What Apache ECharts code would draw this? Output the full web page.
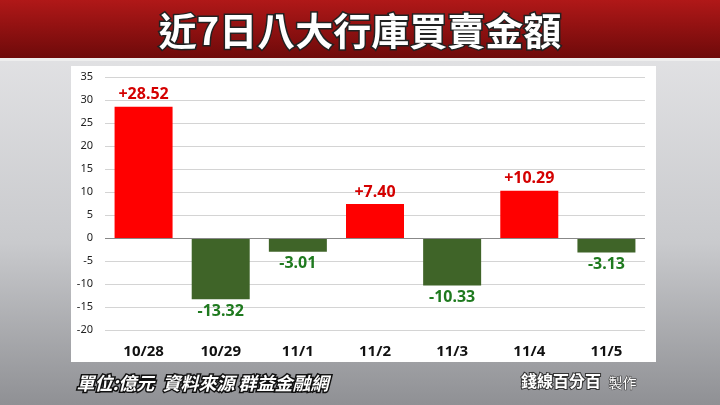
<!DOCTYPE html>
<html><head><meta charset="utf-8">
<script src="https://cdn.jsdelivr.net/npm/echarts@6/dist/echarts.min.js"></script>
<style>html,body{margin:0;padding:0;}
#c{width:720px;height:405px;background:linear-gradient(180deg,#e8e8ea 0%,#c9cacd 60%,#8f9094 100%);}</style>
</head><body><div id="c"></div>
<script>
const categories=['10/28','10/29','11/1','11/2','11/3','11/4','11/5'];
const values=[28.52,-13.32,-3.01,7.40,-10.33,10.29,-3.13];
const labels=['+28.52','-13.32','-3.01','+7.40','-10.33','+10.29','-3.13'];
const chart=echarts.init(document.getElementById('c'));
chart.setOption({
 animation:false,
 graphic:[
  {type:'rect',shape:{x:0,y:0,width:720,height:58},style:{fill:new echarts.graphic.LinearGradient(0,0,0,1,[{offset:0,color:'#b01818'},{offset:1,color:'#6e0a0a'}])},z:-2},
  {type:'rect',shape:{x:0,y:58,width:720,height:3},style:{fill:'#eeeeee'},z:-2},
  {type:'text',left:'center',top:10,style:{text:'近7日八大行庫買賣金額',fill:'#ffffff',font:'bold 38px "Noto Sans CJK TC"',stroke:'#222',lineWidth:3},z:5},
  {type:'rect',shape:{x:71,y:66,width:585,height:296},style:{fill:'#ffffff'},z:-1},
  {type:'text',left:75,top:373,style:{text:'單位:億元  資料來源 群益金融網',fill:'#ffffff',font:'italic bold 18px "Noto Sans CJK TC"',stroke:'#111',lineWidth:3}},
  {type:'text',left:520,top:372,style:{text:'錢線百分百',fill:'#ffffff',font:'bold 16px "Noto Sans CJK TC"',stroke:'#333',lineWidth:2}},
  {type:'text',left:608,top:375,style:{text:'製作',fill:'#ffffff',font:'14px "Noto Sans CJK TC"',stroke:'#333',lineWidth:1}}
 ],
 grid:{left:105,right:75,top:77,bottom:75},
 xAxis:{type:'category',data:categories,position:'bottom',offset:0,
  axisLine:{onZero:false,show:false},axisTick:{show:false},
  axisLabel:{color:'#111',fontWeight:'bold',fontSize:15,margin:14,fontFamily:'Noto Sans'}},
 yAxis:{type:'value',min:-20,max:35,interval:5,
  axisLine:{show:false},axisTick:{show:false},
  axisLabel:{color:'#222',fontSize:11,margin:12,fontFamily:'Noto Sans'},
  splitLine:{lineStyle:{color:'#d4d4d4'}}},
 series:[{type:'bar',barWidth:58,
  data:values.map((v,i)=>({value:v,itemStyle:{color:v>=0?'#ff0000':'#3f6428'},
   label:{show:true,position:v>=0?'top':'bottom',formatter:labels[i],color:v>=0?'#d40000':'#1f7a1f',fontWeight:'bold',fontSize:16,fontFamily:'Noto Sans',distance:4}})),
  markLine:{silent:true,symbol:'none',label:{show:false},lineStyle:{color:'#888',type:'solid',width:1},data:[{yAxis:0}]}
 }]
});
</script></body></html>
